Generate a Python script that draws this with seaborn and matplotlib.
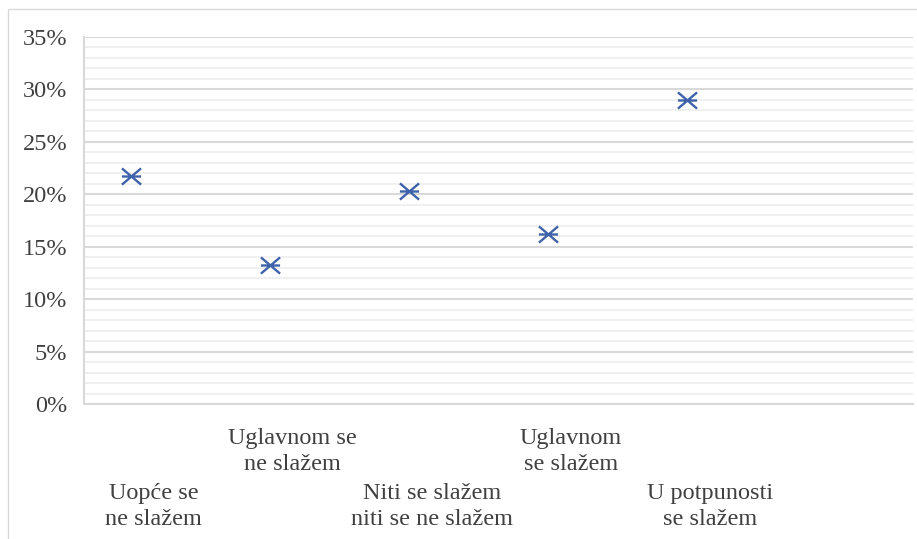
import numpy as np
import pandas as pd
import matplotlib
matplotlib.use("Agg")
import matplotlib.pyplot as plt
from matplotlib.path import Path
from matplotlib.patches import Rectangle
from matplotlib.ticker import MultipleLocator, PercentFormatter
import seaborn as sns

categories = ["Uopće se\nne slažem", "Uglavnom se\nne slažem", "Niti se slažem\nniti se ne slažem",
              "Uglavnom\nse slažem", "U potpunosti\nse slažem"]
values = [21.7, 13.3, 20.3, 16.2, 29.0]
y_ticks = [0, 5, 10, 15, 20, 25, 30, 35]

sns.set_theme(style="white")
plt.rcParams['font.family'] = ['Liberation Serif', 'DejaVu Serif']

fig = plt.figure(figsize=(9.17, 5.39), dpi=100)
ax = fig.add_axes([84/917, 1-404/539, (913-84)/917, (404-37)/539])

# outer chart border
fig.patches.append(Rectangle((8/917, -0.2), 1.2, 1-9/539+0.2, transform=fig.transFigure,
                             fill=False, edgecolor="#D9D9D9", linewidth=1.0, zorder=0))

df = pd.DataFrame({"idx": np.arange(len(categories)), "value": values})
df["pos"] = df["idx"] - 0.162

star = Path([(-1, -0.85), (1, 0.85), (-1, 0.85), (1, -0.85), (-1, 0), (1, 0)],
            [Path.MOVETO, Path.LINETO, Path.MOVETO, Path.LINETO, Path.MOVETO, Path.LINETO])

sns.scatterplot(data=df, x="pos", y="value", ax=ax, marker=star, s=190,
                color="#3F63AA", edgecolor="#3F63AA", linewidth=1.7, zorder=5, legend=False)

ax.set_xlim(-0.5, 5.46)
ax.set_ylim(0, 35)
ax.set_yticks(y_ticks)
ax.yaxis.set_major_formatter(PercentFormatter(decimals=0))
ax.yaxis.set_minor_locator(MultipleLocator(1))
ax.grid(which="major", axis="y", color="#D9D9D9", linewidth=1.5)
ax.grid(which="minor", axis="y", color="#EDEDED", linewidth=1.2)
ax.set_axisbelow(True)

ax.set_xticks(df["idx"])
ax.set_xticklabels(categories, fontsize=17.5, color="#404040", linespacing=1.32)
for i, t in enumerate(ax.xaxis.get_major_ticks()):
    t.set_pad(57 if i % 2 == 0 else 17.5)
ax.tick_params(axis="x", length=0)
ax.tick_params(axis="y", length=0, pad=12, labelsize=17.5, labelcolor="#404040")

ax.set_xlabel("")
ax.set_ylabel("")
for s in ["top", "right"]:
    ax.spines[s].set_visible(False)
for s in ["left", "bottom"]:
    ax.spines[s].set_color("#D9D9D9")
    ax.spines[s].set_linewidth(1.5)

fig.savefig("out.png", dpi=100)
